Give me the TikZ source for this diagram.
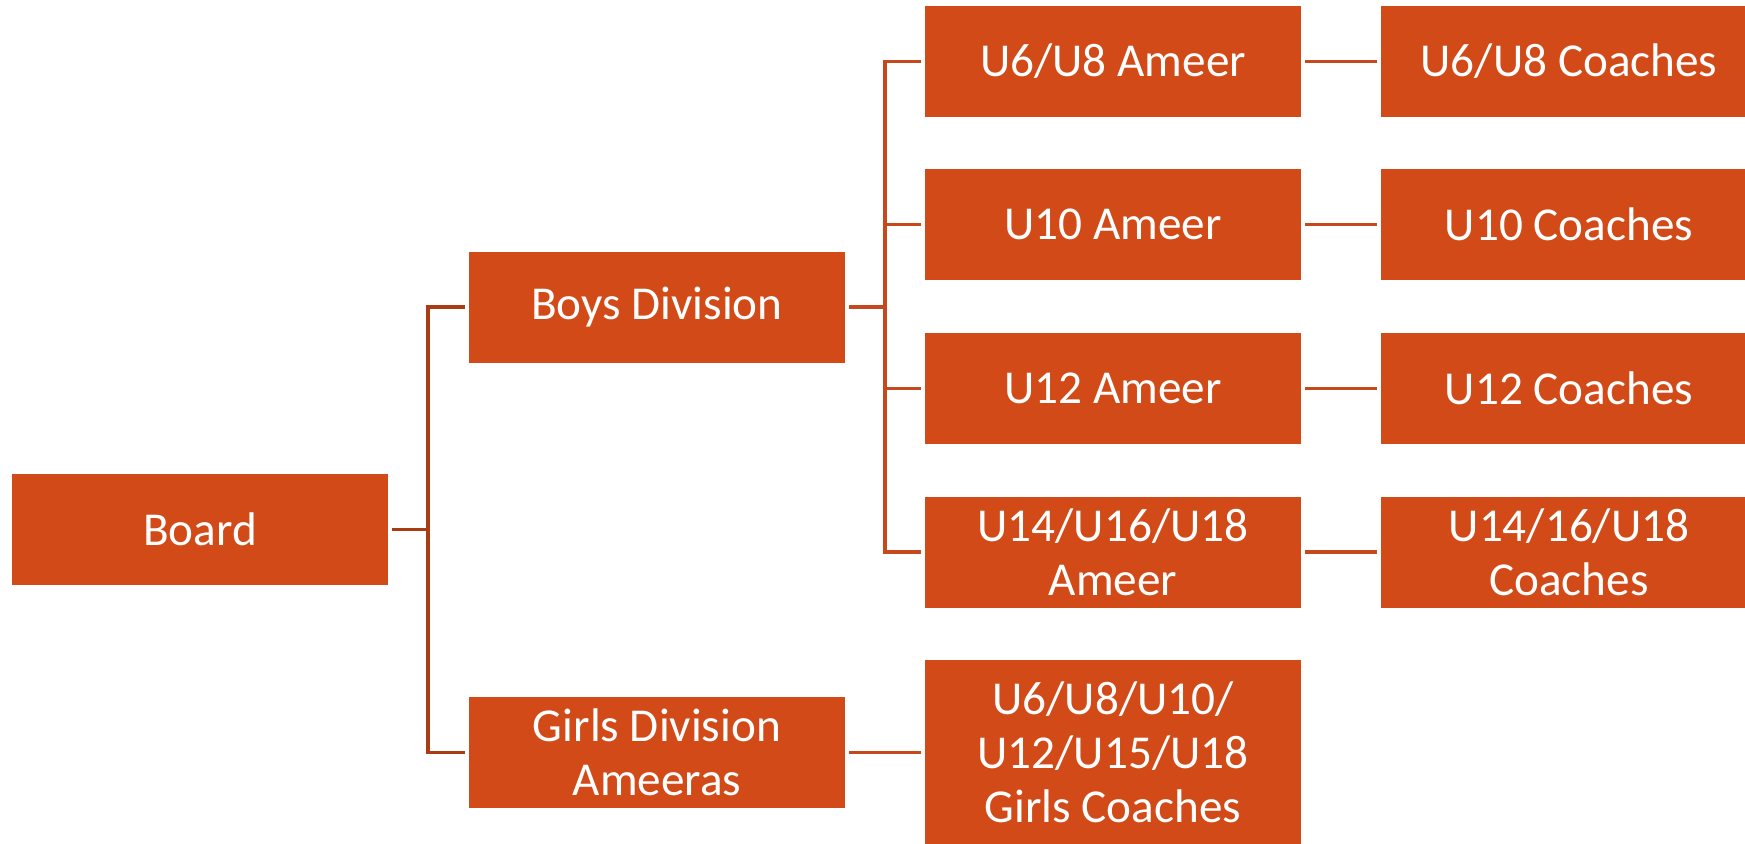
\documentclass[tikz,border=0pt]{standalone}
\usepackage{fontspec}
\setmainfont{Carlito}
\usetikzlibrary{positioning}
\definecolor{boxorange}{HTML}{D24A17}
\definecolor{linedark}{HTML}{A93C12}
\definecolor{lineorange}{HTML}{C6491D}

\begin{document}
\begin{tikzpicture}[
  x=0.5pt, y=-0.5pt,
  font=\fontsize{23.6}{27}\selectfont,
  box/.style={fill=boxorange, text=white, align=center, minimum width=188pt,
    minimum height=55.5pt, inner sep=0pt, outer sep=2pt},
  tallbox/.style={box, minimum height=93pt},
  link/.style={draw=lineorange, line width=1.6pt},
  darklink/.style={draw=linedark, line width=1.6pt}
]
\clip (0,0) rectangle (1745,843);
% Board and divisions
\node [box] (board) at (200,529.5) {Board};
\node [box] (boys) at (657,307) {Boys Division};
\node [box] (girls) at (657,752.5) {Girls Division\\Ameeras};

% Ameers
\node [box] (ameer1) at (1113,61.5) {U6/U8 Ameer};
\node [box] (ameer2) at (1113,224.5) {U10 Ameer};
\node [box] (ameer3) at (1113,388.5) {U12 Ameer};
\node [box] (ameer4) at (1113,552) {U14/U16/U18\\Ameer};
\node [tallbox] (girlscoach) at (1113,752.5) {U6/U8/U10/\\U12/U15/U18\\Girls Coaches};

% Coaches
\node [box] (coach1) at (1569,61.5) {U6/U8 Coaches};
\node [box] (coach2) at (1569,224.5) {U10 Coaches};
\node [box] (coach3) at (1569,388.5) {U12 Coaches};
\node [box] (coach4) at (1569,552) {U14/16/U18\\Coaches};

% Connectors
\draw [darklink] (board.east) -- ++(18pt,0) coordinate (busA);
\draw [darklink] (busA) |- (boys.west);
\draw [darklink] (busA) |- (girls.west);
\draw [link] (boys.east) -- ++(18pt,0) coordinate (busB);
\foreach \i in {1,...,4}
  \draw [link] (busB) |- (ameer\i.west);
\foreach \i in {1,...,4}
  \draw [link] (ameer\i) -- (coach\i);
\draw [link] (girls) -- (girlscoach);
\end{tikzpicture}
\end{document}
